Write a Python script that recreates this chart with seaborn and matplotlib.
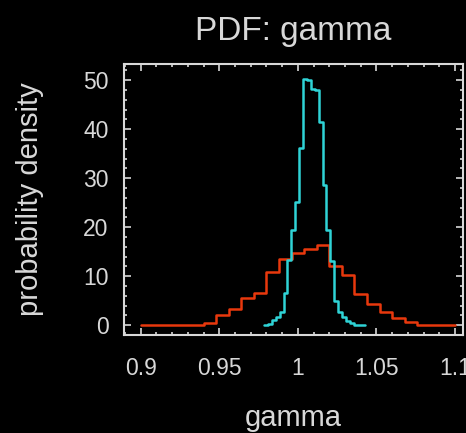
import numpy as np
import pandas as pd
import matplotlib
matplotlib.use('Agg')
import matplotlib.pyplot as plt
from matplotlib.ticker import MultipleLocator, FormatStrFormatter
import seaborn as sns

# Broad distribution (red): 25 bins from 0.9 to 1.1
red_edges = np.linspace(0.9, 1.1, 26)
red_density = [0, 0, 0, 0, 0, 0.5, 2.0, 3.4, 5.6, 6.5, 10.9, 13.5, 14.8,
               15.6, 16.3, 12.1, 10.2, 6.3, 4.4, 2.7, 1.5, 0.7, 0, 0, 0]

# Narrow distribution (cyan): 26 bins from 0.9785 to 1.043
cyan_edges = np.linspace(0.9785, 1.043, 27)
cyan_density = [0.1, 0.15, 1.0, 1.7, 2.7, 6.5, 13.3, 19.4, 25.2, 36.2, 50.3,
                50.0, 48.3, 48.0, 41.5, 28.6, 19.4, 13.0, 5.0, 2.6, 1.6, 0.9,
                0.35, 0.1, 0.05, 0.05]

x_ticks = [0.9, 0.95, 1.0, 1.05, 1.1]
y_ticks = [0, 10, 20, 30, 40, 50]

fg = '#d8d8d8'
sns.set_theme(style="ticks", rc={
    'figure.facecolor': 'black', 'axes.facecolor': 'black',
    'axes.edgecolor': fg, 'axes.labelcolor': fg, 'text.color': fg,
    'xtick.color': fg, 'ytick.color': fg, 'axes.linewidth': 1.5,
})
plt.rcParams['font.family'] = ['Liberation Sans', 'DejaVu Sans']

fig = plt.figure(figsize=(4.66, 4.33), dpi=100)
ax = fig.add_axes([124 / 466, 1 - 335 / 433, (463 - 124) / 466, (335 - 64) / 433])

red_df = pd.DataFrame({'gamma': (red_edges[:-1] + red_edges[1:]) / 2,
                       'density': red_density})
cyan_df = pd.DataFrame({'gamma': (cyan_edges[:-1] + cyan_edges[1:]) / 2,
                        'density': cyan_density})

sns.histplot(data=red_df, x='gamma', weights='density', bins=list(red_edges),
             element='step', fill=False, color='#e8380d', linewidth=1.8, ax=ax)
sns.histplot(data=cyan_df, x='gamma', weights='density', bins=list(cyan_edges),
             element='step', fill=False, color='#2fd3d6', linewidth=1.8, ax=ax)

ax.set_xlim(0.8894, 1.1051)
ax.set_ylim(-2.0, 53.3)
ax.set_xticks(x_ticks)
ax.set_yticks(y_ticks)
ax.xaxis.set_major_formatter(FormatStrFormatter('%g'))
ax.xaxis.set_minor_locator(MultipleLocator(0.01))
ax.yaxis.set_minor_locator(MultipleLocator(2))
ax.tick_params(which='both', direction='in', top=True, right=True, width=1.2)
ax.tick_params(which='major', length=5)
ax.tick_params(which='minor', length=2.5)
ax.tick_params(axis='x', which='major', labelsize=16.5, pad=16)
ax.tick_params(axis='y', which='major', labelsize=16.5, pad=11)

ax.set_title('PDF: gamma', fontsize=24, pad=17, color=fg)
ax.set_xlabel('gamma', fontsize=21, labelpad=17)
ax.set_ylabel('probability density', fontsize=21, labelpad=28)

fig.savefig('out.png', dpi=100, facecolor='black')
